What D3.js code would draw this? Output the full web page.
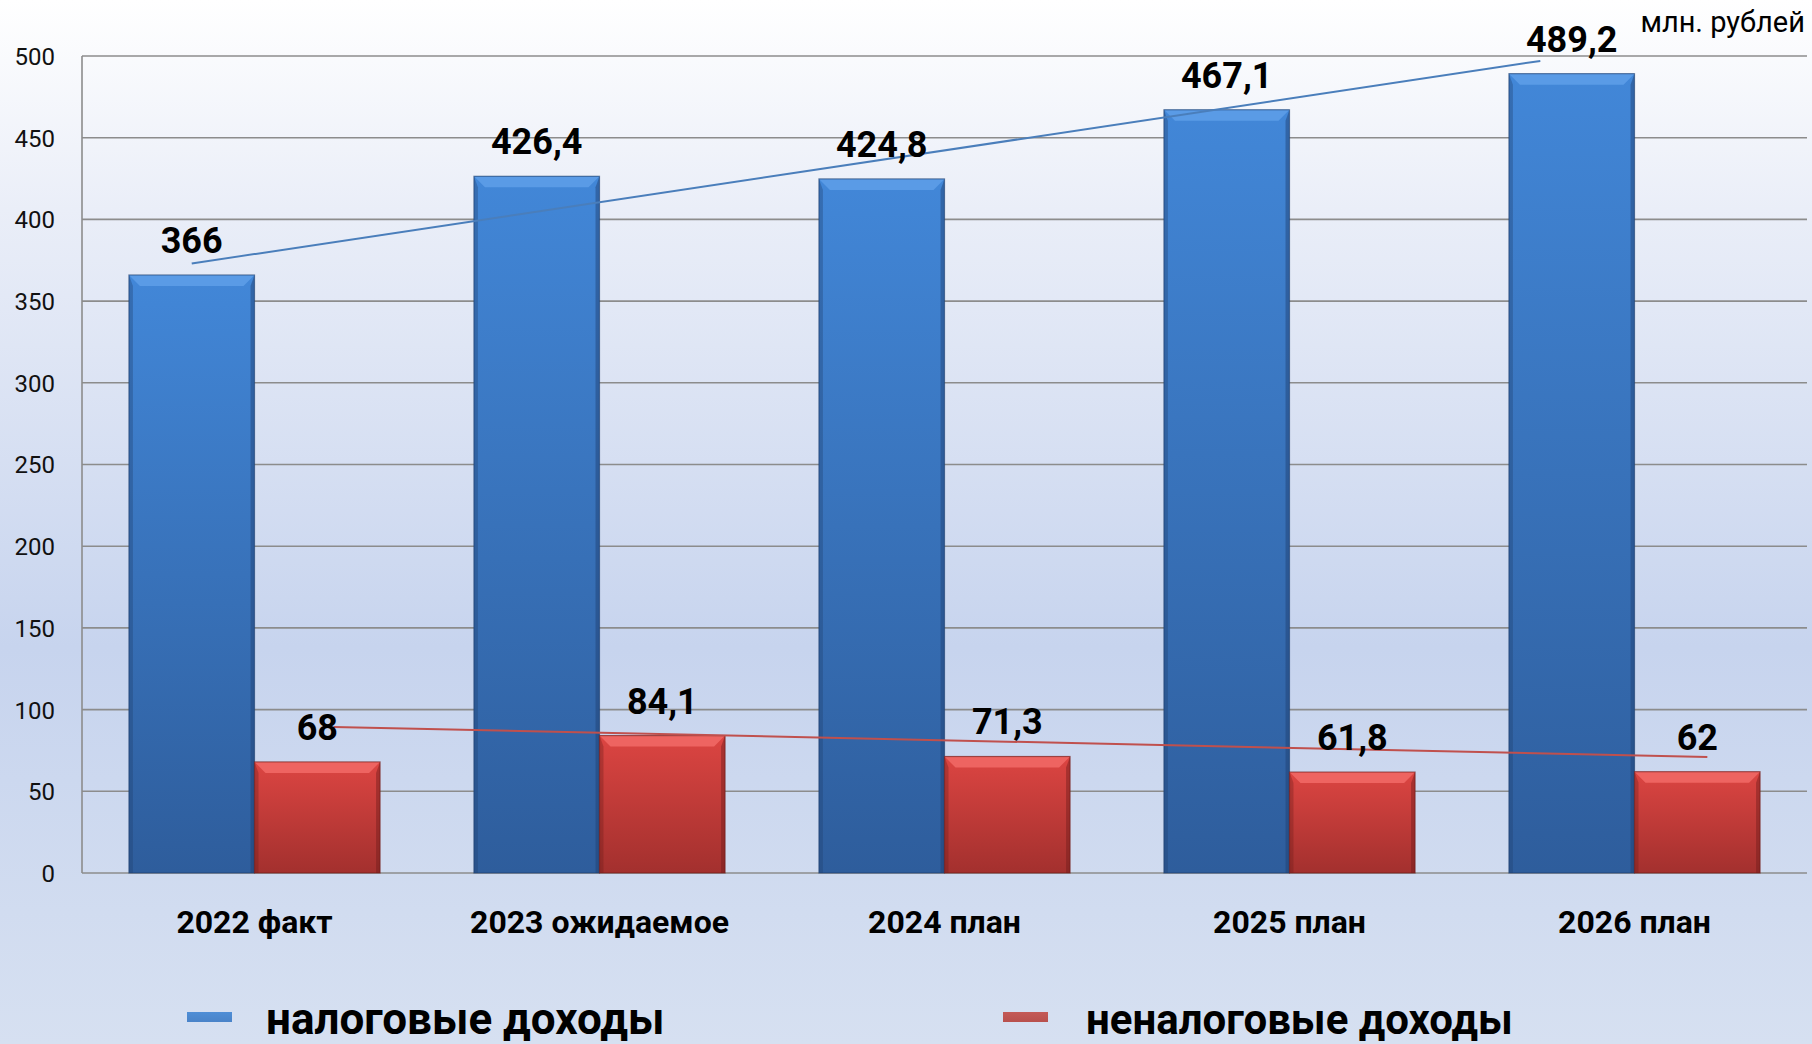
<!DOCTYPE html>
<html>
<head>
<meta charset="utf-8">
<script src="https://cdn.jsdelivr.net/npm/d3@7"></script>
<style>
html,body{margin:0;padding:0;background:#fff;}
svg{display:block;}
text{font-family:Roboto,"Noto Sans",sans-serif;}
</style>
</head>
<body>
<svg id="chart" width="1812" height="1044"></svg>
<script>
const categories = ["2022 факт", "2023 ожидаемое", "2024 план", "2025 план", "2026 план"];
const taxValues = [366, 426.4, 424.8, 467.1, 489.2];
const nonTaxValues = [68, 84.1, 71.3, 61.8, 62];
const taxLabels = ["366", "426,4", "424,8", "467,1", "489,2"];
const nonTaxLabels = ["68", "84,1", "71,3", "61,8", "62"];
const yTicks = [0, 50, 100, 150, 200, 250, 300, 350, 400, 450, 500];
const taxTrend = [373, 497];      // trend line values at start / end
const nonTaxTrend = [89.4, 71];
const seriesNames = ["налоговые доходы", "неналоговые доходы"];
const unitLabel = "млн. рублей";

(function(){
const W = 1812, H = 1044;
const pL = 82, pR = 1807, pT = 56, pB = 873;
const svg = d3.select("#chart");
const defs = svg.append("defs");

const bg = defs.append("linearGradient").attr("id","bg").attr("x1",0).attr("y1",0).attr("x2",0).attr("y2",1);
bg.append("stop").attr("offset","0%").attr("stop-color","#ffffff");
bg.append("stop").attr("offset","20%").attr("stop-color","#eaeef8");
bg.append("stop").attr("offset","62%").attr("stop-color","#c7d4ee");
bg.append("stop").attr("offset","100%").attr("stop-color","#d6e0f1");
svg.append("rect").attr("width",W).attr("height",H).attr("fill","url(#bg)");

function grad(id, c1, c2){
  const g = defs.append("linearGradient").attr("id",id).attr("x1",0).attr("y1",0).attr("x2",0).attr("y2",1);
  g.append("stop").attr("offset","0%").attr("stop-color",c1);
  g.append("stop").attr("offset","100%").attr("stop-color",c2);
}
grad("gBlue","#4287d8","#2e5d9c");
grad("gRed","#dc4542","#a3302e");
grad("gBlueL","#4f8ed6","#4a83c8");
grad("gRedL","#c45a57","#b8504d");

const x = d3.scaleBand().domain(categories).range([pL, pR]).paddingInner(0).paddingOuter(0);
const y = d3.scaleLinear().domain([0, 500]).range([pB, pT]);
const bw = x.bandwidth() * 0.364;

const gridG = svg.append("g");
gridG.selectAll("line").data(yTicks).join("line")
  .attr("x1", pL).attr("x2", pR)
  .attr("y1", d => y(d)).attr("y2", d => y(d))
  .attr("stroke","#8c8c8c").attr("stroke-width",1.6);
svg.append("line").attr("x1",pL).attr("x2",pL).attr("y1",pT).attr("y2",pB)
  .attr("stroke","#8c8c8c").attr("stroke-width",1.6);

const yAxis = d3.axisLeft(y).tickValues(yTicks).tickSize(0).tickPadding(0).tickFormat(d3.format("d"));
const yg = svg.append("g").attr("transform",`translate(55,0)`).call(yAxis);
yg.select(".domain").remove();
yg.selectAll("text").attr("font-size",24).attr("fill","#111").attr("font-family","Roboto, sans-serif").attr("dy","0.35em");

function drawBar(g, bx, v, fill, dark, light){
  const yt = y(v), h = pB - yt, bev = Math.min(11, h/2), side = 4;
  g.append("rect").attr("x",bx).attr("y",yt).attr("width",bw).attr("height",h).attr("fill",fill);
  g.append("path").attr("d",`M${bx},${yt} L${bx+side},${yt+bev} L${bx+side},${pB} L${bx},${pB}Z`).attr("fill",dark).attr("opacity",0.35);
  g.append("path").attr("d",`M${bx+bw},${yt} L${bx+bw-side},${yt+bev} L${bx+bw-side},${pB} L${bx+bw},${pB}Z`).attr("fill",dark).attr("opacity",0.45);
  g.append("path").attr("d",`M${bx},${yt} L${bx+bw},${yt} L${bx+bw-bev},${yt+bev} L${bx+bev},${yt+bev}Z`).attr("fill",light);
  g.append("rect").attr("x",bx).attr("y",yt).attr("width",bw).attr("height",h).attr("fill","none").attr("stroke",dark).attr("stroke-width",1.2).attr("stroke-opacity",0.6);
}
const barsG = svg.append("g");
categories.forEach((c,i) => {
  const cx = x(c) + x.bandwidth()/2;
  drawBar(barsG, cx - bw, taxValues[i], "url(#gBlue)", "#1f3f6e", "#5a9be6");
  drawBar(barsG, cx, nonTaxValues[i], "url(#gRed)", "#6e1c1a", "#ee6461");
});

const c0 = x(categories[0]) + x.bandwidth()/2, c4 = x(categories[4]) + x.bandwidth()/2;
svg.append("line")
  .attr("x1", c0 - bw/2).attr("y1", y(taxTrend[0]))
  .attr("x2", c4 - bw/2 - bw*0.25).attr("y2", y(taxTrend[1]))
  .attr("stroke","#4a7ebb").attr("stroke-width",2);
svg.append("line")
  .attr("x1", c0 + bw/2 + bw*0.13).attr("y1", y(nonTaxTrend[0]))
  .attr("x2", c4 + bw/2 + bw*0.08).attr("y2", y(nonTaxTrend[1]))
  .attr("stroke","#c0504d").attr("stroke-width",2);

const lblG = svg.append("g").attr("font-weight","bold").attr("font-size",36).attr("text-anchor","middle").attr("fill","#000");
categories.forEach((c,i) => {
  const cx = x(c) + x.bandwidth()/2;
  lblG.append("text").attr("x", cx - bw/2).attr("y", y(taxValues[i]) - 22).text(taxLabels[i]);
  lblG.append("text").attr("x", cx + bw/2).attr("y", y(nonTaxValues[i]) - 22).text(nonTaxLabels[i]);
});

const xAxis = d3.axisBottom(x).tickSize(0).tickPadding(0);
const xg = svg.append("g").attr("transform",`translate(0,933)`).call(xAxis);
xg.select(".domain").remove();
xg.selectAll("text").attr("font-size",32).attr("font-weight","bold").attr("fill","#000")
  .attr("font-family","Roboto, sans-serif").attr("dy",0);

svg.append("text").attr("x",1805).attr("y",32).attr("text-anchor","end")
  .attr("font-size",29).attr("fill","#000").text(unitLabel);

const legend = [
  {name: seriesNames[0], sx: 187, tx: 266, fs: 44, fill: "url(#gBlueL)"},
  {name: seriesNames[1], sx: 1003, tx: 1086, fs: 42, fill: "url(#gRedL)"}
];
legend.forEach(l => {
  svg.append("rect").attr("x", l.sx).attr("y", 1012).attr("width", 45).attr("height", 10).attr("fill", l.fill);
  svg.append("text").attr("x", l.tx).attr("y", 1034).attr("font-size",l.fs).attr("font-weight","bold").attr("fill","#000").text(l.name);
});
})();
</script>
</body>
</html>
